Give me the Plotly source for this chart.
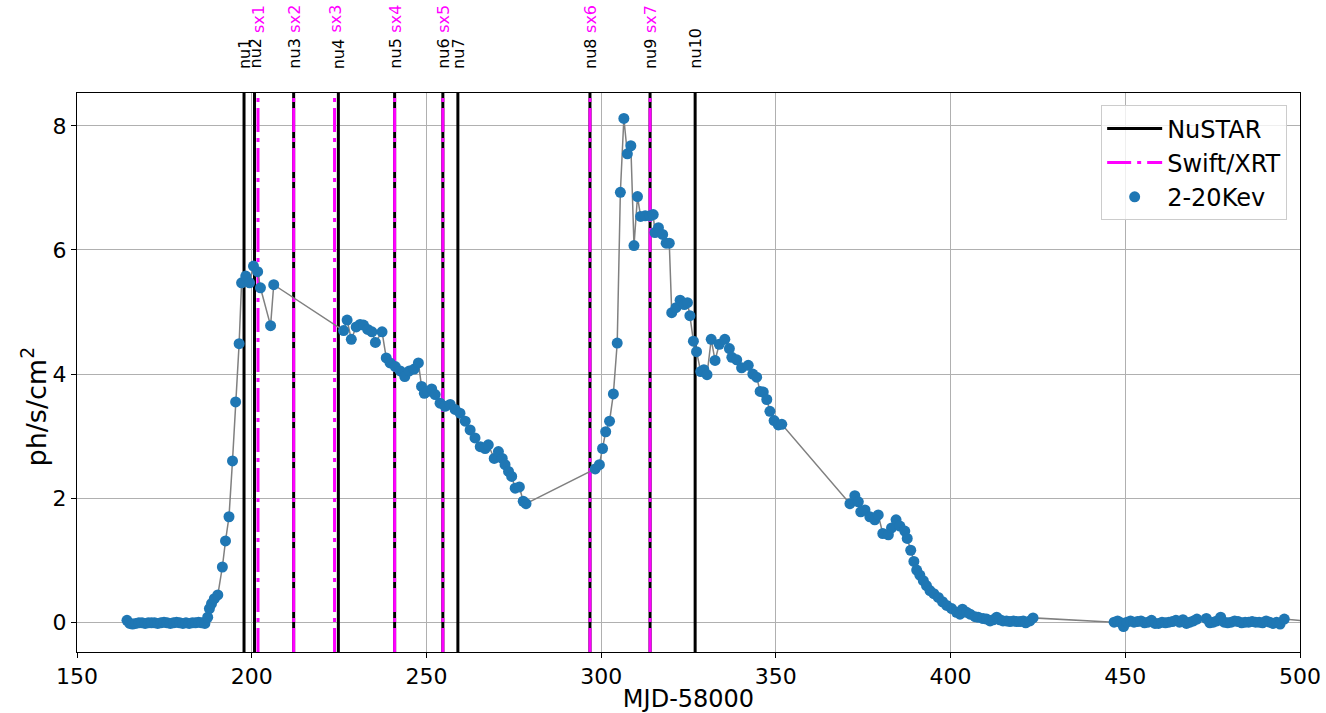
import plotly.graph_objects as go

# ---------------- data ----------------
mjd = [
    164.3, 165.1, 165.9, 166.8, 167.7, 168.6, 169.5, 170.4, 171.3, 172.2, 173.1, 174.0, 174.9,
    175.8, 176.7, 177.6, 178.5, 179.4, 180.3, 181.2, 182.1, 183.0, 183.9, 184.8, 185.7, 186.6,
    187.4, 187.9, 188.5, 189.3, 190.3, 191.6, 192.5, 193.5, 194.5, 195.4, 196.4, 197.1, 198.3,
    199.4, 200.5, 201.7, 202.5, 205.4, 206.3,
    226.3, 227.3, 228.5, 229.9, 231.0, 232.0, 233.2, 234.4, 235.4, 237.3, 238.5, 239.6, 241.1,
    242.5, 243.8, 245.1, 246.5, 247.7, 248.6, 249.4, 250.4, 251.5, 252.5, 253.9, 255.3, 256.8,
    258.2, 259.6, 261.1, 262.5, 263.9, 265.4, 266.8, 267.7, 269.4, 270.6, 271.7, 272.5, 273.5,
    274.4, 275.4, 276.6, 277.7, 278.5,
    298.3, 299.5, 300.4, 301.3, 302.4, 303.5, 304.6, 305.5, 306.5, 307.5, 308.5, 309.4, 310.4,
    311.3, 312.6, 314.0, 314.9, 315.4, 316.4, 317.6, 318.6, 319.5, 320.2, 321.4, 322.6, 323.8,
    324.7, 325.4, 326.4, 327.3, 328.5, 329.4, 330.3, 331.5, 332.6, 333.8, 335.4, 336.7, 337.4,
    338.8, 340.2, 342.1, 343.4, 344.5, 345.5, 346.4, 347.4, 348.3, 349.5, 350.7, 351.7,
    371.2, 372.6, 373.6, 374.3, 375.5, 376.9, 378.3, 379.3, 380.6, 382.2, 383.1, 384.4, 385.5,
    386.9, 387.6, 388.6, 389.5, 390.3, 391.2, 392.2, 393.1, 394.1, 395.2, 396.5, 397.7, 398.9,
    400.3, 401.7, 402.7, 403.4, 404.6, 405.6, 407.0, 407.9, 409.3, 410.3, 411.3, 412.2, 413.2,
    414.1, 415.0, 416.0, 417.0, 418.0, 418.9, 419.9, 420.8, 421.5, 422.7, 423.6,
    446.8, 447.8, 448.8, 449.5, 450.5, 451.5, 452.5, 453.5, 454.5, 455.5, 456.5, 457.5, 458.5,
    459.5, 460.5, 461.5, 462.5, 463.5, 464.5, 465.5, 466.5, 467.5, 468.5, 469.5, 470.5,
    473.2, 474.2, 475.2, 476.2, 477.3, 478.3, 479.3, 480.3, 481.3, 482.3, 483.3, 484.3, 485.3,
    486.3, 487.3, 488.3, 489.3, 490.3, 491.3, 492.3, 493.3, 494.3, 495.5, 503.0,
]
rate = [
    0.03, -0.02, -0.03, -0.02, -0.01, -0.01, -0.02, -0.01, -0.01, -0.01, -0.02, -0.01, 0.00,
    -0.01, -0.02, -0.01, 0.00, -0.01, -0.02, -0.01, -0.02, -0.01, -0.01, 0.00, -0.01, -0.02,
    0.08, 0.22, 0.30, 0.38, 0.44, 0.89, 1.31, 1.70, 2.60, 3.55, 4.49, 5.47, 5.58,
    5.47, 5.74, 5.65, 5.39, 4.78, 5.44,
    4.70, 4.87, 4.56, 4.76, 4.80, 4.79, 4.72, 4.68, 4.51, 4.68, 4.26, 4.18, 4.12,
    4.05, 3.96, 4.05, 4.08, 4.18, 3.80, 3.69, 3.72, 3.76, 3.67, 3.53, 3.48, 3.51,
    3.43, 3.37, 3.24, 3.10, 2.97, 2.83, 2.80, 2.86, 2.64, 2.75, 2.64, 2.54, 2.43,
    2.35, 2.16, 2.18, 1.95, 1.91,
    2.47, 2.54, 2.80, 3.07, 3.24, 3.68, 4.50, 6.93, 8.12, 7.55, 7.68, 6.07, 6.86,
    6.54, 6.55, 6.55, 6.57, 6.28, 6.36, 6.25, 6.11, 6.11, 4.99, 5.07, 5.19, 5.12,
    5.15, 4.94, 4.53, 4.36, 4.04, 4.07, 3.99, 4.56, 4.22, 4.48, 4.56, 4.41, 4.27,
    4.23, 4.10, 4.14, 4.00, 3.95, 3.72, 3.71, 3.59, 3.40, 3.25, 3.18, 3.19,
    1.91, 2.04, 1.94, 1.78, 1.81, 1.70, 1.65, 1.73, 1.43, 1.41, 1.52, 1.65, 1.55,
    1.47, 1.35, 1.16, 0.98, 0.84, 0.76, 0.67, 0.59, 0.51, 0.46, 0.40, 0.33, 0.27,
    0.22, 0.16, 0.13, 0.21, 0.16, 0.13, 0.09, 0.08, 0.06, 0.05, 0.02, 0.04, 0.08,
    0.04, 0.02, 0.02, 0.01, 0.02, 0.01, 0.01, 0.02, -0.01, 0.02, 0.07,
    0.00, 0.02, -0.01, -0.07, 0.00, 0.02, 0.00, 0.01, 0.02, -0.01, 0.00, 0.03, -0.02,
    -0.02, 0.00, -0.01, 0.00, 0.01, 0.03, 0.00, 0.04, -0.02, 0.00, 0.02, 0.05,
    0.06, -0.01, 0.00, 0.02, 0.08, 0.00, -0.01, 0.00, 0.02, 0.01, -0.01, 0.00, 0.00,
    0.01, 0.00, 0.00, -0.01, 0.02, 0.00, -0.02, 0.00, -0.03, 0.05, 0.01,
]

nustar_times = [197.8, 200.8, 212.0, 224.8, 240.9, 254.7, 259.0, 296.8, 314.0, 326.9]
nustar_labels = ["nu1", "nu2", "nu3", "nu4", "nu5", "nu6", "nu7", "nu8", "nu9", "nu10"]
swift_times = [201.8, 212.0, 223.7, 240.9, 254.7, 296.8, 314.0]
swift_labels = ["sx1", "sx2", "sx3", "sx4", "sx5", "sx6", "sx7"]

X_RANGE = [150, 500]
Y_RANGE = [-0.48, 8.53]
x_ticks = [150, 200, 250, 300, 350, 400, 450, 500]
y_ticks = [0, 2, 4, 6, 8]

FONT = "DejaVu Sans"


def vlines(times):
    xs, ys = [], []
    for t in times:
        xs += [t, t, None]
        ys += [Y_RANGE[0], Y_RANGE[1], None]
    return xs, ys


fig = go.Figure()

nx, ny = vlines(nustar_times)
fig.add_trace(go.Scatter(x=nx, y=ny, mode="lines", name="NuSTAR",
                         line=dict(color="black", width=3)))
sx, sy = vlines(swift_times)
fig.add_trace(go.Scatter(x=sx, y=sy, mode="lines", name="Swift/XRT",
                         line=dict(color="#ff00ff", width=3, dash="24px,6px,4px,6px")))
fig.add_trace(go.Scatter(x=mjd, y=rate, mode="lines", showlegend=False,
                         line=dict(color="#808080", width=1.5), hoverinfo="skip"))
fig.add_trace(go.Scatter(x=mjd, y=rate, mode="markers", name="2-20Kev",
                         marker=dict(color="#1f77b4", size=11, line=dict(width=0))))

annotations = []
for t, lab in zip(nustar_times, nustar_labels):
    annotations.append(dict(x=t, y=1, xref="x", yref="paper", text=lab, showarrow=False,
                            textangle=-90, xanchor="center", yanchor="bottom", yshift=22,
                            font=dict(family=FONT, size=16, color="black")))
for t, lab in zip(swift_times, swift_labels):
    annotations.append(dict(x=t, y=1, xref="x", yref="paper", text=lab, showarrow=False,
                            textangle=-90, xanchor="center", yanchor="bottom", yshift=58,
                            font=dict(family=FONT, size=16, color="#ff00ff")))
# y-axis title (placed as in the reference, slightly below the axis centre)
annotations.append(dict(x=0, y=0.5, xref="paper", yref="paper",
                        text="ph/s/cm<sup>2</sup>", showarrow=False, textangle=-90,
                        xanchor="center", yanchor="middle", xshift=-43, yshift=-34,
                        font=dict(family=FONT, size=27, color="black")))

fig.update_layout(
    width=1326, height=713,
    margin=dict(l=77, r=26, t=93, b=61, autoexpand=False),
    paper_bgcolor="white", plot_bgcolor="white",
    font=dict(family=FONT, size=22, color="black"),
    annotations=annotations,
    legend=dict(x=0.9895, y=0.978, xanchor="right", yanchor="top",
                bgcolor="rgba(255,255,255,0.8)", bordercolor="#cccccc", borderwidth=1,
                font=dict(family=FONT, size=24), itemwidth=55),
    xaxis=dict(range=X_RANGE, tickvals=x_ticks, showgrid=True, gridcolor="#b0b0b0",
               gridwidth=1, zeroline=False, showline=True, linecolor="black", linewidth=1,
               mirror=True, ticks="outside", ticklen=5, tickcolor="black", automargin=False,
               tickfont=dict(size=22),
               title=dict(text="MJD-58000", font=dict(size=24), standoff=6)),
    yaxis=dict(range=Y_RANGE, tickvals=y_ticks, showgrid=True, gridcolor="#b0b0b0",
               gridwidth=1, zeroline=False, showline=True, linecolor="black", linewidth=1,
               mirror=True, ticks="outside", ticklen=5, tickcolor="black", automargin=False,
               tickfont=dict(size=22)),
)

fig.write_html("out.html")
